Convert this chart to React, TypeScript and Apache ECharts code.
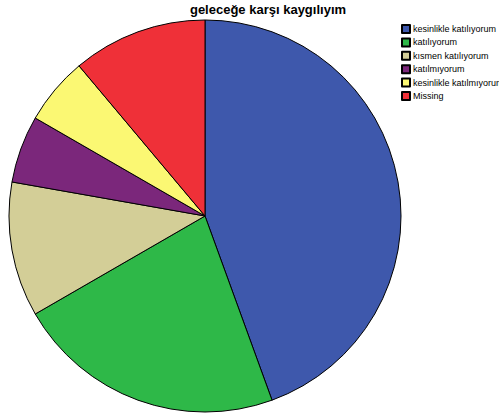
import React, { useEffect, useRef } from "react";
import * as echarts from "echarts";

const categories = [
  "kesinlikle katılıyorum",
  "katılıyorum",
  "kısmen katılıyorum",
  "katılmıyorum",
  "kesinlikle katılmıyorum",
  "Missing",
];
const counts = [16, 8, 4, 2, 2, 4];
const colors = ["#3e58ac", "#2eb848", "#d3ce97", "#7b277b", "#fbf873", "#ef3038"];
const titleText = "geleceğe karşı kaygılıyım";

export default function App() {
  const ref = useRef<HTMLDivElement>(null);
  useEffect(() => {
    document.body.style.margin = "0";
    const chart = echarts.init(ref.current!, null, { renderer: "svg" });
    chart.setOption({
      animation: false,
      backgroundColor: "#ffffff",
      title: {
        text: titleText,
        left: 268,
        textAlign: "center",
        top: 0,
        padding: [3, 0, 0, 0],
        textStyle: {
          fontFamily: "Liberation Sans, Arial, sans-serif",
          fontSize: 13,
          fontWeight: "bold",
          color: "#000",
        },
      },
      legend: {
        orient: "vertical",
        left: 401,
        top: 24,
        padding: 0,
        itemWidth: 8,
        itemHeight: 8,
        itemGap: 3.4,
        icon: "rect",
        data: categories,
        textStyle: {
          fontFamily: "Liberation Sans, Arial, sans-serif",
          fontSize: 9,
          lineHeight: 8,
          color: "#000",
          padding: [0, 0, 0, -2],
        },
      },
      series: [
        {
          type: "pie",
          center: [205, 216],
          radius: 196,
          startAngle: 90,
          clockwise: true,
          label: { show: false },
          labelLine: { show: false },
          emphasis: { disabled: true },
          itemStyle: { borderColor: "#000", borderWidth: 1 },
          data: categories.map((name, i) => ({
            name,
            value: counts[i],
            itemStyle: { color: colors[i] },
          })),
        },
      ],
    });
    return () => chart.dispose();
  }, []);
  return <div ref={ref} style={{ width: 499, height: 414 }} />;
}
